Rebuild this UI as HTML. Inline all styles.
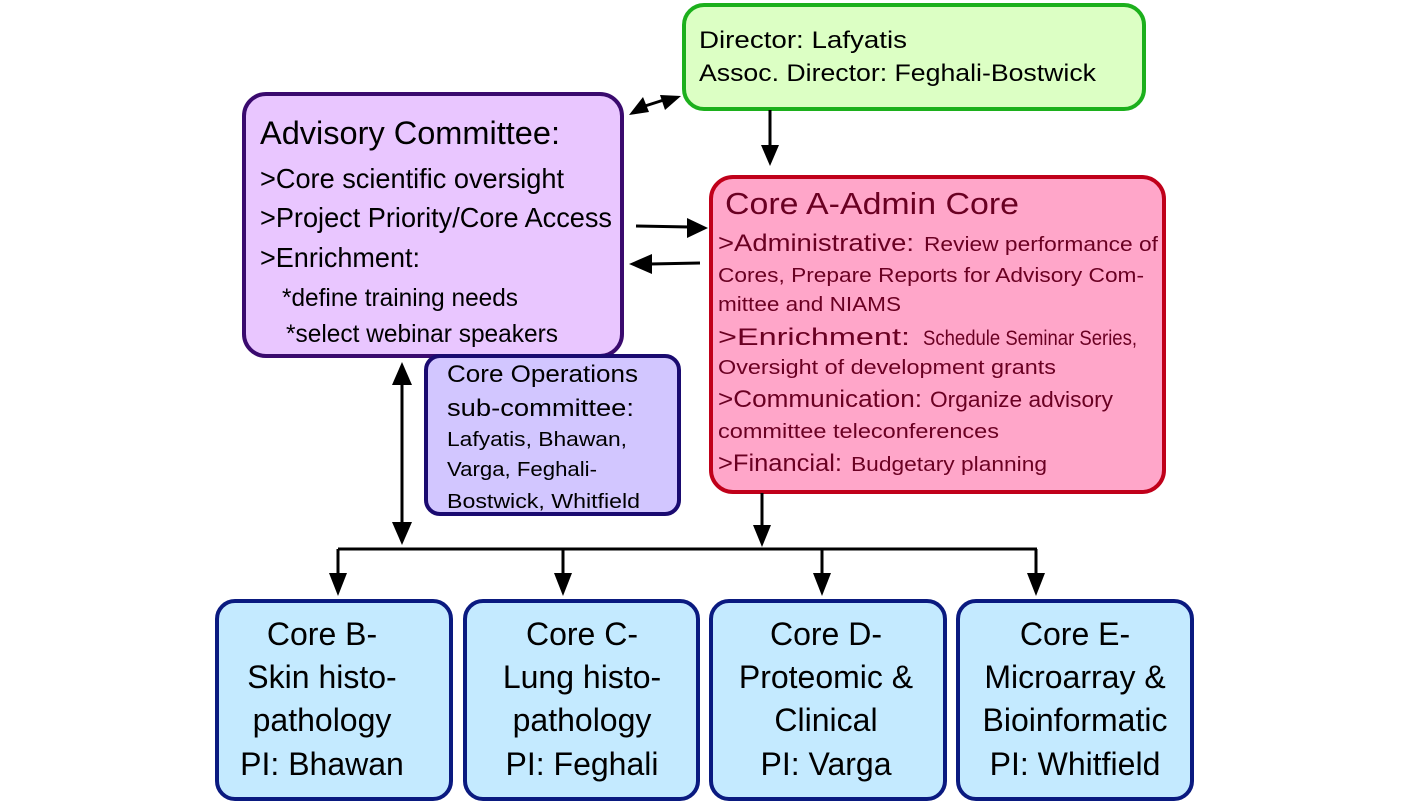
<!DOCTYPE html>
<html><head><meta charset="utf-8"><style>
html,body{margin:0;padding:0;background:#fff;}
svg{display:block;}
text{font-family:"Liberation Sans",sans-serif;}
</style></head><body>
<svg width="1411" height="806" viewBox="0 0 1411 806" xmlns="http://www.w3.org/2000/svg">
<!-- boxes -->
<rect x="684" y="5" width="460" height="104" rx="20" fill="#dcffc4" stroke="#1cb01c" stroke-width="4"/>
<rect x="244" y="94" width="378" height="262" rx="22" fill="#e9c6ff" stroke="#3a0a6e" stroke-width="4"/>
<rect x="711" y="177" width="453" height="315" rx="22" fill="#ffa6c9" stroke="#c0001a" stroke-width="4"/>
<rect x="426" y="356" width="253" height="158" rx="14" fill="#d2c6ff" stroke="#1a0a70" stroke-width="4"/>
<rect x="217" y="601" width="234" height="198" rx="18" fill="#c4eaff" stroke="#0a1a80" stroke-width="4"/>
<rect x="465" y="601" width="233" height="198" rx="18" fill="#c4eaff" stroke="#0a1a80" stroke-width="4"/>
<rect x="711" y="601" width="234" height="198" rx="18" fill="#c4eaff" stroke="#0a1a80" stroke-width="4"/>
<rect x="958" y="601" width="234" height="198" rx="18" fill="#c4eaff" stroke="#0a1a80" stroke-width="4"/>

<!-- connectors -->
<g stroke="#000" stroke-width="3" fill="none">
<line x1="645" y1="106" x2="670" y2="98"/>
<line x1="770" y1="110" x2="770" y2="148"/>
<line x1="636" y1="226" x2="690" y2="227"/>
<line x1="700" y1="263" x2="650" y2="264"/>
<line x1="402" y1="380" x2="402" y2="528"/>
<line x1="338" y1="549" x2="1037" y2="549"/>
<line x1="762" y1="493" x2="762" y2="530"/>
<line x1="338" y1="549" x2="338" y2="578"/>
<line x1="563" y1="549" x2="563" y2="578"/>
<line x1="822" y1="549" x2="822" y2="578"/>
<line x1="1036" y1="549" x2="1036" y2="578"/>
</g>
<g fill="#000">
<polygon points="629,115 643,97 649,112"/>
<polygon points="681,96 660,95 665,110"/>
<polygon points="770,166 761,145 779,145"/>
<polygon points="708,228 687,218 687,238"/>
<polygon points="629,264 652,254 652,274"/>
<polygon points="402,362 392,385 412,385"/>
<polygon points="402,545 392,522 412,522"/>
<polygon points="762,547 753,525 771,525"/>
<polygon points="338,596 329,573 347,573"/>
<polygon points="563,596 554,573 572,573"/>
<polygon points="822,596 813,573 831,573"/>
<polygon points="1036,596 1027,573 1045,573"/>
</g>

<!-- Director -->
<text x="699" y="48" font-size="24" fill="#000" textLength="208" lengthAdjust="spacingAndGlyphs">Director: Lafyatis</text>
<text x="699" y="81" font-size="24" fill="#000" textLength="397" lengthAdjust="spacingAndGlyphs">Assoc. Director: Feghali-Bostwick</text>

<!-- Advisory -->
<g fill="#000">
<text x="260" y="144" font-size="32" textLength="300" lengthAdjust="spacingAndGlyphs">Advisory Committee:</text>
<text x="260" y="188" font-size="28" textLength="304" lengthAdjust="spacingAndGlyphs">&gt;Core scientific oversight</text>
<text x="260" y="227" font-size="28" textLength="352" lengthAdjust="spacingAndGlyphs">&gt;Project Priority/Core Access</text>
<text x="260" y="267" font-size="28" textLength="160" lengthAdjust="spacingAndGlyphs">&gt;Enrichment:</text>
<text x="282" y="306" font-size="25" textLength="236" lengthAdjust="spacingAndGlyphs">*define training needs</text>
<text x="286" y="342" font-size="25" textLength="272" lengthAdjust="spacingAndGlyphs">*select webinar speakers</text>
</g>

<!-- Core A -->
<g fill="#6a0022">
<text x="725" y="214" font-size="31" textLength="294" lengthAdjust="spacingAndGlyphs">Core A-Admin Core</text>
<text x="718" y="251" font-size="24" textLength="196" lengthAdjust="spacingAndGlyphs">&gt;Administrative:</text>
<text x="924" y="251" font-size="20" textLength="234" lengthAdjust="spacingAndGlyphs">Review performance of</text>
<text x="718" y="282" font-size="20" textLength="426" lengthAdjust="spacingAndGlyphs">Cores, Prepare Reports for Advisory Com-</text>
<text x="718" y="311" font-size="20" textLength="183" lengthAdjust="spacingAndGlyphs">mittee and NIAMS</text>
<text x="718" y="345" font-size="24" textLength="192" lengthAdjust="spacingAndGlyphs">&gt;Enrichment:</text>
<text x="923" y="345" font-size="21" textLength="214" lengthAdjust="spacingAndGlyphs">Schedule Seminar Series,</text>
<text x="718" y="374" font-size="20" textLength="338" lengthAdjust="spacingAndGlyphs">Oversight of development grants</text>
<text x="718" y="407" font-size="24" textLength="204" lengthAdjust="spacingAndGlyphs">&gt;Communication:</text>
<text x="930" y="407" font-size="22" textLength="183" lengthAdjust="spacingAndGlyphs">Organize advisory</text>
<text x="718" y="438" font-size="20" textLength="281" lengthAdjust="spacingAndGlyphs">committee teleconferences</text>
<text x="718" y="471" font-size="24" textLength="124" lengthAdjust="spacingAndGlyphs">&gt;Financial:</text>
<text x="851" y="471" font-size="20" textLength="196" lengthAdjust="spacingAndGlyphs">Budgetary planning</text>
</g>

<!-- Core Ops -->
<g fill="#000">
<text x="447" y="382" font-size="24" textLength="191" lengthAdjust="spacingAndGlyphs">Core Operations</text>
<text x="447" y="416" font-size="24" textLength="187" lengthAdjust="spacingAndGlyphs">sub-committee:</text>
<text x="447" y="446" font-size="20" textLength="180" lengthAdjust="spacingAndGlyphs">Lafyatis, Bhawan,</text>
<text x="447" y="476" font-size="20" textLength="150" lengthAdjust="spacingAndGlyphs">Varga, Feghali-</text>
<text x="447" y="508" font-size="20" textLength="193" lengthAdjust="spacingAndGlyphs">Bostwick, Whitfield</text>
</g>

<!-- Bottom cores -->
<g fill="#000" font-size="32" text-anchor="middle">
<text x="322" y="645">Core B-</text>
<text x="322" y="688">Skin histo-</text>
<text x="322" y="731">pathology</text>
<text x="322" y="775">PI: Bhawan</text>
<text x="582" y="645">Core C-</text>
<text x="582" y="688">Lung histo-</text>
<text x="582" y="731">pathology</text>
<text x="582" y="775">PI: Feghali</text>
<text x="826" y="645">Core D-</text>
<text x="826" y="688">Proteomic &amp;</text>
<text x="826" y="731">Clinical</text>
<text x="826" y="775">PI: Varga</text>
<text x="1075" y="645">Core E-</text>
<text x="1075" y="688">Microarray &amp;</text>
<text x="1075" y="731">Bioinformatic</text>
<text x="1075" y="775">PI: Whitfield</text>
</g>
</svg>
</body></html>
